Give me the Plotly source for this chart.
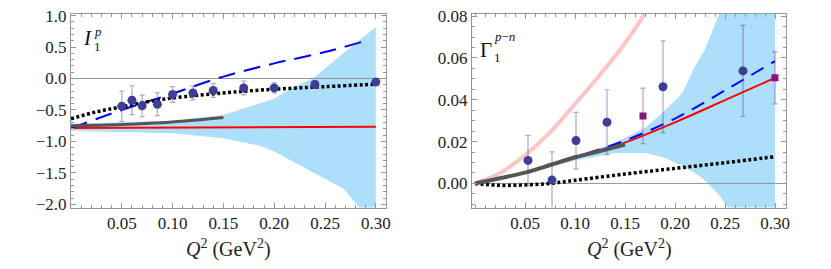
import plotly.graph_objects as go

W, H = 831, 269

# ---------------- Left panel: I_1^p ----------------
L_pts_x = [0.05, 0.06, 0.07, 0.085, 0.10, 0.12, 0.14, 0.17, 0.20, 0.24, 0.30]
L_pts_y = [-0.44, -0.345, -0.435, -0.41, -0.255, -0.23, -0.19, -0.15, -0.15, -0.095, -0.055]
L_pts_e = [0.24, 0.23, 0.17, 0.18, 0.125, 0.11, 0.11, 0.11, 0.08, 0.06, 0.02]

L_dash_x = [0, 0.05, 0.10, 0.15, 0.20, 0.25, 0.29]
L_dash_y = [-0.79, -0.50, -0.24, 0.03, 0.24, 0.42, 0.60]

L_dot_x = [0, 0.025, 0.05, 0.075, 0.10, 0.15, 0.20, 0.25, 0.30]
L_dot_y = [-0.64, -0.53, -0.45, -0.37, -0.31, -0.23, -0.17, -0.13, -0.09]

L_red_x = [0, 0.10, 0.20, 0.30]
L_red_y = [-0.785, -0.775, -0.77, -0.765]

L_gray_x = [0, 0.05, 0.10, 0.15]
L_gray_y = [-0.75, -0.73, -0.69, -0.62]

L_band_x = [0, 0.05, 0.10, 0.15, 0.186, 0.20, 0.219, 0.238, 0.268, 0.30]
L_band_up = [-0.72, -0.70, -0.67, -0.58, -0.40, -0.32, -0.13, 0.0, 0.40, 0.82]
L_band_lo = [-0.83, -0.845, -0.87, -0.95, -1.07, -1.16, -1.32, -1.49, -1.75, -2.35]

L_yticks = [-2.0, -1.5, -1.0, -0.5, 0.0, 0.5, 1.0]
L_ytext = ["\u22122.0", "\u22121.5", "\u22121.0", "\u22120.5", "0.0", "0.5", "1.0"]
L_xrange = [0, 0.31]
L_yrange = [-2.05, 1.025]

# ---------------- Right panel: Gamma_1^{p-n} ----------------
R_circ_x = [0.053, 0.077, 0.101, 0.132, 0.188, 0.268]
R_circ_y = [0.011, 0.0016, 0.0205, 0.0293, 0.0462, 0.0538]
R_circ_e = [0.012, 0.0135, 0.0135, 0.0155, 0.022, 0.0218]

R_sq_x = [0.168, 0.30]
R_sq_y = [0.0323, 0.0505]
R_sq_e = [0.0133, 0.0125]

R_pink_x = [0, 0.025, 0.05, 0.075, 0.10, 0.125, 0.15, 0.175]
R_pink_y = [0, 0.005, 0.0135, 0.0245, 0.038, 0.052, 0.067, 0.085]

R_gray_x = [0, 0.025, 0.05, 0.075, 0.10, 0.125, 0.15]
R_gray_y = [0, 0.0025, 0.0052, 0.0088, 0.0125, 0.0155, 0.0186]

R_red_x = [0, 0.05, 0.10, 0.15, 0.20, 0.25, 0.30]
R_red_y = [0, 0.0052, 0.0122, 0.0195, 0.0292, 0.0398, 0.0505]

R_dash_x = [0, 0.05, 0.10, 0.15, 0.20, 0.25, 0.30]
R_dash_y = [0, 0.0053, 0.0126, 0.0205, 0.031, 0.0445, 0.0585]

R_dot_x = [0, 0.025, 0.05, 0.075, 0.10, 0.15, 0.20, 0.25, 0.30]
R_dot_y = [0, -0.0009, -0.0007, 0.0, 0.0015, 0.0045, 0.0072, 0.0099, 0.0128]

R_band_x = [0, 0.05, 0.10, 0.14, 0.17, 0.188, 0.207, 0.22, 0.23, 0.245, 0.26, 0.28, 0.30]
R_band_up = [0, 0.006, 0.013, 0.0195, 0.0265, 0.034, 0.043, 0.056, 0.064, 0.082, 0.11, 0.15, 0.2]
R_band_lo = [0, 0.0045, 0.011, 0.0145, 0.0145, 0.0125, 0.0085, 0.005, 0.0015, -0.006, -0.017, -0.04, -0.08]

R_yticks = [0.0, 0.02, 0.04, 0.06, 0.08]
R_ytext = ["0.00", "0.02", "0.04", "0.06", "0.08"]
R_xrange = [-0.003, 0.311]
R_yrange = [-0.0115, 0.081]

X_ticks = [0.05, 0.10, 0.15, 0.20, 0.25, 0.30]
X_text = ["0.05", "0.10", "0.15", "0.20", "0.25", "0.30"]

BAND = "rgb(172,223,250)"
PT = "rgb(62,62,150)"
PT_ERR = "rgba(62,62,150,0.45)"
SQ = "rgb(135,20,120)"
SQ_ERR = "rgba(160,60,160,0.55)"
FRAME = "rgb(150,150,150)"
FONT = "Liberation Serif, DejaVu Serif, serif"

fig = go.Figure()


def add_panel(xa, ya, bx, bup, blo, xrange):
    fig.add_trace(go.Scatter(x=bx + bx[::-1], y=bup + blo[::-1], fill="toself",
                             fillcolor=BAND, line=dict(width=0), mode="lines",
                             xaxis=xa, yaxis=ya, hoverinfo="skip"))
    fig.add_trace(go.Scatter(x=xrange, y=[0, 0], mode="lines",
                             line=dict(color="rgb(150,150,150)", width=1),
                             xaxis=xa, yaxis=ya))


# Left
add_panel("x", "y", L_band_x, L_band_up, L_band_lo, L_xrange)
fig.add_trace(go.Scatter(x=L_red_x, y=L_red_y, mode="lines",
                         line=dict(color="red", width=2), xaxis="x", yaxis="y"))
fig.add_trace(go.Scatter(x=L_dash_x, y=L_dash_y, mode="lines",
                         line=dict(color="blue", width=2, dash="17px,9px", shape="spline"),
                         xaxis="x", yaxis="y"))
fig.add_trace(go.Scatter(x=L_dot_x, y=L_dot_y, mode="lines",
                         line=dict(color="black", width=3.5, dash="3px,2.5px", shape="spline"),
                         xaxis="x", yaxis="y"))
fig.add_trace(go.Scatter(x=L_gray_x, y=L_gray_y, mode="lines",
                         line=dict(color="rgb(85,85,85)", width=3, shape="spline"),
                         xaxis="x", yaxis="y"))
fig.add_trace(go.Scatter(x=L_pts_x, y=L_pts_y, mode="markers",
                         marker=dict(color=PT, size=9),
                         error_y=dict(type="data", array=L_pts_e, color=PT_ERR,
                                      thickness=1.2, width=2.5),
                         xaxis="x", yaxis="y"))

# Right
add_panel("x2", "y2", R_band_x, R_band_up, R_band_lo, R_xrange)
fig.add_trace(go.Scatter(x=R_pink_x, y=R_pink_y, mode="lines",
                         line=dict(color="rgba(255,150,150,0.55)", width=4, shape="spline"),
                         xaxis="x2", yaxis="y2"))
fig.add_trace(go.Scatter(x=R_red_x, y=R_red_y, mode="lines",
                         line=dict(color="red", width=2, shape="spline"),
                         xaxis="x2", yaxis="y2"))
fig.add_trace(go.Scatter(x=R_dash_x, y=R_dash_y, mode="lines",
                         line=dict(color="blue", width=2, dash="14px,9px", shape="spline"),
                         xaxis="x2", yaxis="y2"))
fig.add_trace(go.Scatter(x=R_dot_x, y=R_dot_y, mode="lines",
                         line=dict(color="black", width=3.5, dash="3px,2.5px", shape="spline"),
                         xaxis="x2", yaxis="y2"))
fig.add_trace(go.Scatter(x=R_gray_x, y=R_gray_y, mode="lines",
                         line=dict(color="rgb(85,85,85)", width=4, shape="spline"),
                         xaxis="x2", yaxis="y2"))
fig.add_trace(go.Scatter(x=R_circ_x, y=R_circ_y, mode="markers",
                         marker=dict(color=PT, size=9),
                         error_y=dict(type="data", array=R_circ_e, color=PT_ERR,
                                      thickness=1.2, width=2.5),
                         xaxis="x2", yaxis="y2"))
fig.add_trace(go.Scatter(x=R_sq_x, y=R_sq_y, mode="markers",
                         marker=dict(color=SQ, size=7, symbol="square"),
                         error_y=dict(type="data", array=R_sq_e, color=SQ_ERR,
                                      thickness=1.2, width=2.5),
                         xaxis="x2", yaxis="y2"))


def px(x):
    return x / W


def py(y):
    return 1 - y / H


axis_common = dict(showline=True, linecolor=FRAME, linewidth=1, mirror="ticks",
                   ticks="inside", ticklen=5, tickcolor=FRAME, tickwidth=1,
                   showgrid=False, zeroline=False, automargin=False,
                   tickfont=dict(family=FONT, size=17, color="#222"))

xd1 = [px(71), px(386)]
xd2 = [px(472), px(786)]
yd = [py(207.5), py(14)]

fig.update_layout(
    width=W, height=H, margin=dict(l=0, r=0, t=0, b=0, autoexpand=False),
    paper_bgcolor="white", plot_bgcolor="white", showlegend=False,
    font=dict(family=FONT),
    xaxis=dict(domain=xd1, range=L_xrange, tickvals=X_ticks, ticktext=X_text,
               minor=dict(dtick=0.01, tick0=0, ticks="inside", ticklen=3, tickcolor=FRAME),
               anchor="y", **axis_common),
    yaxis=dict(domain=yd, range=L_yrange, tickvals=L_yticks, ticktext=L_ytext,
               minor=dict(dtick=0.1, tick0=0, ticks="inside", ticklen=3, tickcolor=FRAME),
               anchor="x", **axis_common),
    xaxis2=dict(domain=xd2, range=R_xrange, tickvals=X_ticks, ticktext=X_text,
                minor=dict(dtick=0.01, tick0=0, ticks="inside", ticklen=3, tickcolor=FRAME),
                anchor="y2", **axis_common),
    yaxis2=dict(domain=yd, range=R_yrange, tickvals=R_yticks, ticktext=R_ytext,
                minor=dict(dtick=0.005, tick0=0, ticks="inside", ticklen=3, tickcolor=FRAME),
                anchor="x2", **axis_common),
)

title = "<i>Q</i><sup>2</sup> (GeV<sup>2</sup>)"
ann = []
for cx in [(71 + 386) / 2, (472 + 786) / 2]:
    ann.append(dict(x=px(cx), y=py(248), xref="paper", yref="paper", text=title,
                    showarrow=False, font=dict(family=FONT, size=20, color="#222"),
                    xanchor="center", yanchor="middle"))

# Left panel label I_1^p
ann.append(dict(x=px(87), y=py(38.5), xref="paper", yref="paper", text="<i>I</i>",
                showarrow=False, font=dict(family=FONT, size=21, color="#111"),
                xanchor="center", yanchor="middle"))
ann.append(dict(x=px(92), y=py(31), xref="paper", yref="paper", text="<i>p</i>",
                showarrow=False, font=dict(family=FONT, size=13, color="#111"),
                xanchor="left", yanchor="middle"))
ann.append(dict(x=px(92), y=py(46), xref="paper", yref="paper", text="1",
                showarrow=False, font=dict(family=FONT, size=13, color="#111"),
                xanchor="left", yanchor="middle"))

# Right panel label Gamma_1^{p-n}
ann.append(dict(x=px(486), y=py(50), xref="paper", yref="paper", text="\u0393",
                showarrow=False, font=dict(family=FONT, size=21, color="#111"),
                xanchor="center", yanchor="middle"))
ann.append(dict(x=px(492), y=py(36), xref="paper", yref="paper", text="<i>p</i>\u2212<i>n</i>",
                showarrow=False, font=dict(family=FONT, size=13, color="#111"),
                xanchor="left", yanchor="middle"))
ann.append(dict(x=px(492), y=py(57), xref="paper", yref="paper", text="1",
                showarrow=False, font=dict(family=FONT, size=13, color="#111"),
                xanchor="left", yanchor="middle"))

fig.update_layout(annotations=ann)
fig.write_html("out.html", config={"displayModeBar": False, "staticPlot": True},
               post_script="document.body.style.margin='0';document.body.style.overflow='hidden';")
